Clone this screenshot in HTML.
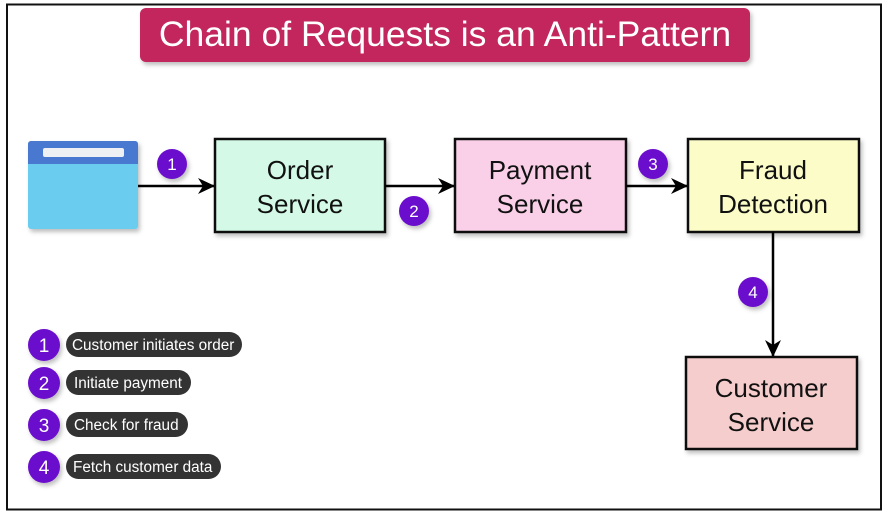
<!DOCTYPE html>
<html><head><meta charset="utf-8"><style>
html,body{margin:0;padding:0;background:#fff;}
svg{display:block;font-family:"Liberation Sans",Arial,sans-serif;}
</style></head><body>
<svg width="888" height="517" viewBox="0 0 888 517" xmlns="http://www.w3.org/2000/svg">
<defs>
<filter id="sh" x="-10%" y="-10%" width="130%" height="140%"><feDropShadow dx="2" dy="3" stdDeviation="2" flood-color="#000" flood-opacity="0.25"/></filter>
<marker id="ar" markerWidth="18" markerHeight="16" refX="16" refY="8" orient="auto" markerUnits="userSpaceOnUse"><path d="M0,0 L17,8 L0,16 L5,8 z" fill="#000"/></marker>
</defs>
<rect x="7" y="4.5" width="874" height="505" fill="#fff" stroke="#111" stroke-width="2"/>
<rect x="140" y="8" width="610" height="54" rx="6" fill="#c2255c" filter="url(#sh)"/>
<text x="445" y="46" font-size="35.5" fill="#fff" text-anchor="middle">Chain of Requests is an Anti-Pattern</text>
<g filter="url(#sh)">
<rect x="28" y="141" width="110" height="88" rx="3" fill="#6bcdf0"/>
<path d="M31,141 h104 a3,3 0 0 1 3,3 v20 h-110 v-20 a3,3 0 0 1 3,-3z" fill="#4a78d0"/>
<rect x="43" y="148" width="81" height="9" rx="2" fill="#eef0f4"/>
</g>
<g stroke="#111" stroke-width="2.5" filter="url(#sh)">
<rect x="215" y="139" width="170" height="93" fill="#d4f9e6"/>
<rect x="455" y="139" width="171" height="93" fill="#f9d0e8"/>
<rect x="688" y="139" width="171" height="93" fill="#fbfcc8"/>
<rect x="686" y="357" width="171" height="92" fill="#f5cdcc"/>
</g>
<g font-size="26" text-anchor="middle" fill="#111">
<text x="300" y="179">Order</text><text x="300" y="213">Service</text>
<text x="540" y="179">Payment</text><text x="540" y="213">Service</text>
<text x="773" y="179">Fraud</text><text x="773" y="213">Detection</text>
<text x="771" y="397">Customer</text><text x="771" y="431">Service</text>
</g>
<g stroke="#000" stroke-width="2.5" fill="none">
<line x1="138" y1="186" x2="214" y2="186" marker-end="url(#ar)"/>
<line x1="385" y1="186" x2="454" y2="186" marker-end="url(#ar)"/>
<line x1="626" y1="186" x2="687" y2="186" marker-end="url(#ar)"/>
<line x1="773" y1="232" x2="773" y2="356" marker-end="url(#ar)"/>
</g>
<g filter="url(#sh)" fill="#6a0dcc">
<circle cx="172" cy="164" r="15"/><circle cx="414" cy="211" r="15"/>
<circle cx="653" cy="164" r="15"/><circle cx="753" cy="292" r="15"/>
<circle cx="44" cy="345" r="16"/><circle cx="44" cy="383" r="16"/>
<circle cx="44" cy="425" r="16"/><circle cx="44" cy="467" r="16"/>
</g>
<g fill="#fff" font-size="17" text-anchor="middle">
<text x="172" y="170">1</text><text x="414" y="217">2</text>
<text x="653" y="170">3</text><text x="753" y="298">4</text>
<text x="44" y="352" font-size="19">1</text><text x="44" y="390" font-size="19">2</text>
<text x="44" y="432" font-size="19">3</text><text x="44" y="474" font-size="19">4</text>
</g>
<g fill="#333">
<rect x="66" y="332" width="176" height="25" rx="12.5"/>
<rect x="66" y="370" width="125" height="25" rx="12.5"/>
<rect x="66" y="412" width="122" height="25" rx="12.5"/>
<rect x="66" y="454" width="155" height="25" rx="12.5"/>
</g>
<g fill="#fff" font-size="15.3">
<text x="72" y="350">Customer initiates order</text>
<text x="74" y="388">Initiate payment</text>
<text x="74" y="430">Check for fraud</text>
<text x="73" y="472">Fetch customer data</text>
</g>
</svg>
</body></html>
